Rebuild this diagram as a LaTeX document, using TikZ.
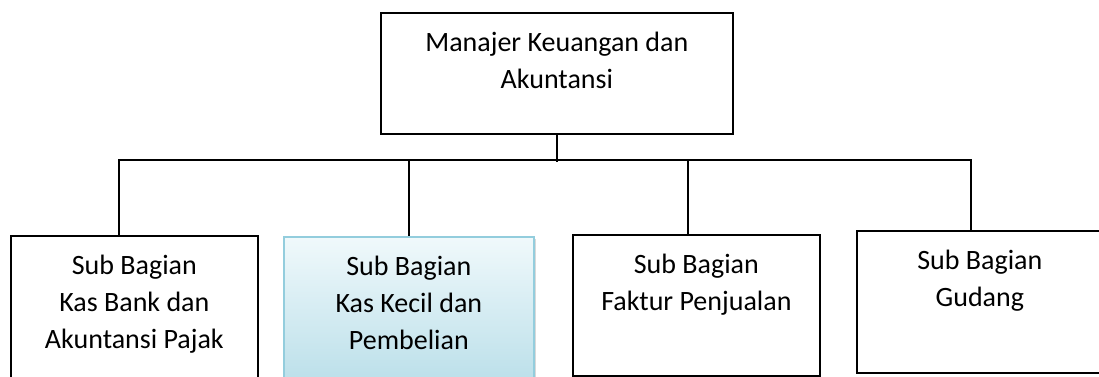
\documentclass[tikz,border=0pt]{standalone}
\usepackage{fontspec}
\setmainfont{Carlito}
\usetikzlibrary{positioning,shadows}
\definecolor{biruAtas}{HTML}{F0F9FB}
\definecolor{biruBawah}{HTML}{B6DDE8}
\definecolor{biruTepi}{HTML}{93CDDD}

\begin{document}
\begin{tikzpicture}[x=1pt, y=-1pt,
  kotak/.style={draw=black, line width=1.7pt, inner sep=0pt, anchor=north west},
  kotakbiru/.style={draw=biruTepi, line width=1.7pt, inner sep=0pt, anchor=north west,
    top color=biruAtas, bottom color=biruBawah,
    drop shadow={shadow xshift=2pt, shadow yshift=-2pt, opacity=0.3}},
  teks/.style={align=center, inner sep=0pt, font=\fontsize{28}{37}\selectfont},
  garis/.style={line width=1.7pt}]
			%%%%% START %%%%%
			\path[use as bounding box, clip] (0,0) rectangle (1099,376);
			
			% kotak-kotak
			\node[kotak, minimum width=352pt, minimum height=121pt] (manajer) at (380,12) {};
			\node[kotak, minimum width=247pt, minimum height=160pt] (kasbank) at (10,235) {};
			\node[kotakbiru, minimum width=250pt, minimum height=160pt] (kaskecil) at (283,236) {};
			\node[kotak, minimum width=247pt, minimum height=141pt] (faktur) at (572,234) {};
			\node[kotak, minimum width=246pt, minimum height=142pt] (gudang) at (856,230) {};
			
			% teks
			\node[teks, below=19.5pt of manajer.north] (teksManajer) {Manajer Keuangan dan\\Akuntansi};
			\node[teks, below=20pt of kasbank.north] (teksKasbank) {Sub Bagian\\Kas Bank dan\\Akuntansi Pajak};
			\node[teks, below=19.5pt of kaskecil.north] (teksKaskecil) {Sub Bagian\\Kas Kecil dan\\Pembelian};
			\node[teks, below=19.5pt of faktur.north] (teksFaktur) {Sub Bagian\\Faktur Penjualan};
			\node[teks, below=20pt of gudang.north] (teksGudang) {Sub Bagian\\Gudang};
			
			% garis penghubung
			\draw[garis] (manajer.south) -- ++(0,27) coordinate (cabang);
			\coordinate (ujungKiri) at (119,160);
			\coordinate (turunDua) at (409,160);
			\coordinate (turunTiga) at (688,160);
			\coordinate (ujungKanan) at (971,160);
			\draw[garis] (ujungKiri |- kasbank.north) -- (ujungKiri) -- (ujungKanan) -- (ujungKanan |- gudang.north);
			\draw[garis] (turunDua) -- (turunDua |- kaskecil.north);
			\draw[garis] (turunTiga) -- (turunTiga |- faktur.north);
			
			%%%%% END %%%%%
\end{tikzpicture}
\end{document}
